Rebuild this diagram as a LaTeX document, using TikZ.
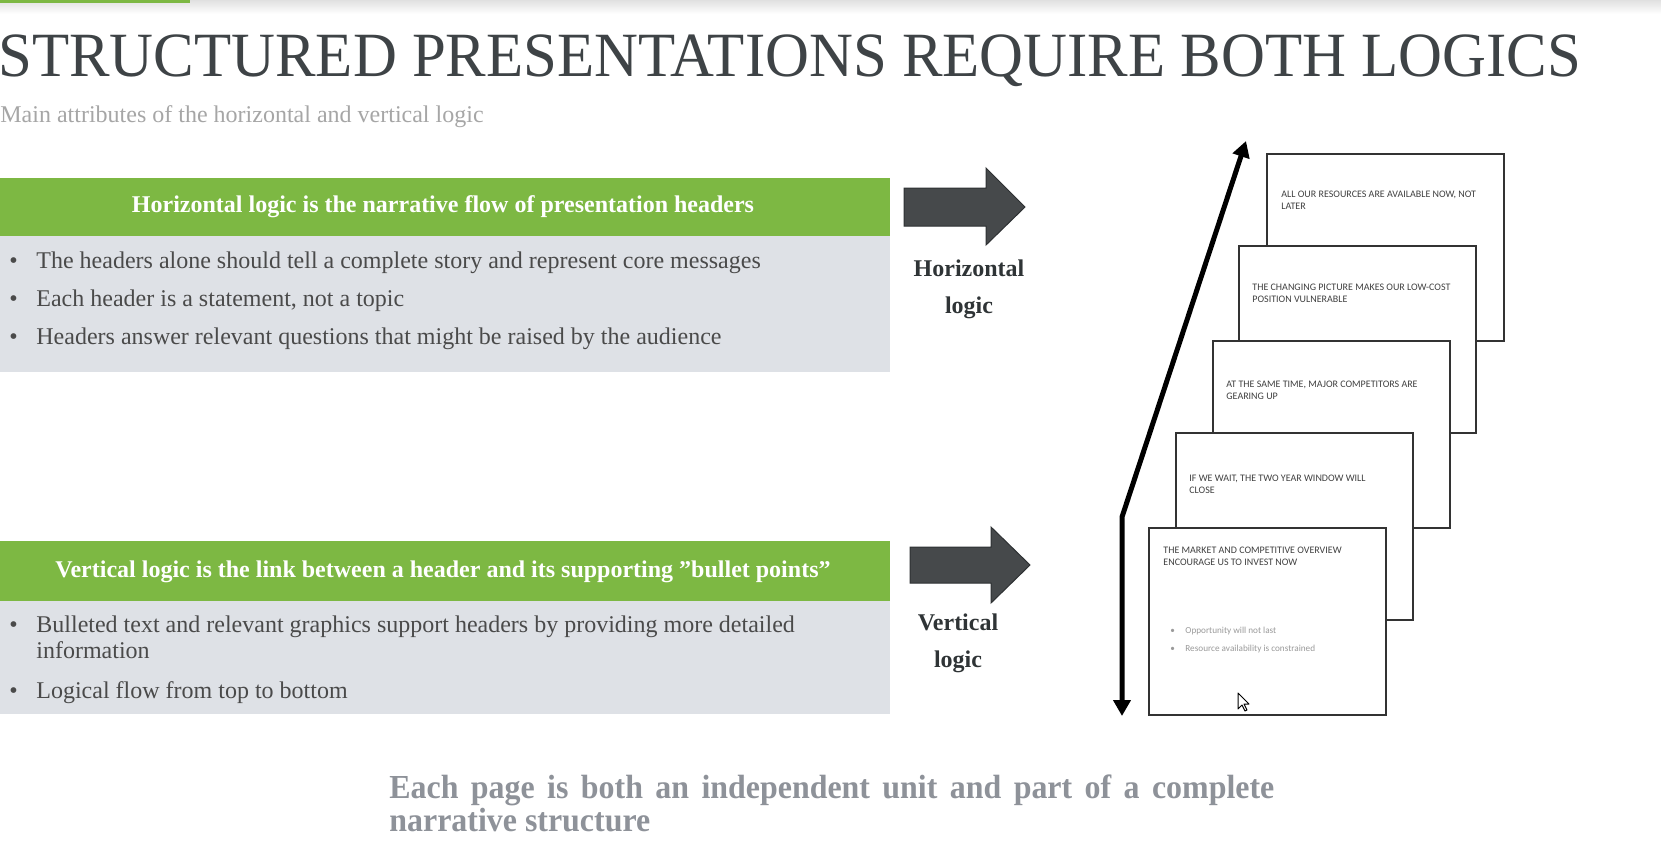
\documentclass[tikz,border=0pt]{standalone}
\usepackage{fontspec}
\setmainfont{Liberation Serif}
\newfontfamily\titlefont{Liberation Serif}[FakeStretch=0.965]
\newfontfamily\notefont{Liberation Serif}[FakeStretch=0.95]
\newfontfamily\slidefont{Carlito}
\usetikzlibrary{arrows.meta}
\definecolor{accent}{HTML}{7DB843}
\definecolor{panel}{HTML}{DEE1E6}
\definecolor{bodytext}{HTML}{4A4A4A}
\definecolor{titlecol}{HTML}{3E4346}
\definecolor{subcol}{HTML}{A6A6A6}
\definecolor{notecol}{HTML}{8E9299}
\definecolor{blockcol}{HTML}{46494B}
\definecolor{blockedge}{HTML}{2E3133}
\definecolor{labelcol}{HTML}{2F3436}
\definecolor{slideedge}{HTML}{333333}
\definecolor{slidetext}{HTML}{404040}
\definecolor{slidebul}{HTML}{9A9A9A}
\begin{document}
\begin{tikzpicture}[x=0.5pt,y=-0.5pt,
  txt/.style={anchor=base west,inner sep=0pt},
  hdrbar/.style={fill=accent,anchor=north west,inner sep=0pt,minimum width=445pt,minimum height=#1},
  panelbox/.style={fill=panel,anchor=north west,inner sep=0pt,minimum width=445pt,minimum height=#1},
  hdrtext/.style={anchor=base,inner sep=0pt,text=white,font=\fontsize{12}{14}\selectfont\bfseries},
  bultext/.style={txt,text=bodytext,align=left,font=\fontsize{12}{13}\selectfont},
  bulmark/.style={txt,text=bodytext,font=\fontsize{12}{13}\selectfont},
  blockarrow/.style={fill=blockcol,draw=blockedge,line width=0.5pt},
  logiclabel/.style={anchor=base,inner sep=0pt,text=labelcol,font=\fontsize{12}{15}\selectfont\bfseries},
  slidebox/.style={draw=slideedge,fill=white,line width=1pt,anchor=north west,inner sep=0pt,minimum width=118.5pt,minimum height=93.5pt},
  slidehead/.style={txt,text=slidetext,align=left,font=\slidefont\fontsize{5}{6}\selectfont},
  slidebullet/.style={txt,text=slidebul,font=\slidefont\fontsize{4.6}{6}\selectfont},
  bigarrow/.style={line width=2.5pt,line join=miter,{Triangle[length=8pt,width=8.5pt]}-{Triangle[length=8pt,width=8.5pt]}}
]
\useasboundingbox (0,0) rectangle (1661,864);
\fill[white] (0,0) rectangle (1661,864);

% top band and accent line
\shade[top color=black!12,bottom color=white] (0,0) rectangle (1661,14);
\fill[accent] (0,0) rectangle (190,3);

% title and subtitle
\node[txt,text=titlecol,font=\titlefont\fontsize{31.5}{36}\selectfont] (title) at (-2,76)
  {STRUCTURED PRESENTATIONS REQUIRE BOTH LOGICS};
\node[txt,text=subcol,font=\fontsize{12}{14}\selectfont] (subtitle) at (0,122)
  {Main attributes of the horizontal and vertical logic};

% horizontal logic panel
\node[hdrbar=29pt] (hbar) at (0,178) {};
\node[panelbox=68pt] (hpanel) at (0,236) {};
\node[hdrtext] (htitle) at (443,212) {Horizontal logic is the narrative flow of presentation headers};
\node[bulmark] (hb1) at (9,268) {\textbullet};
\node[bultext] (ht1) at (36,268) {The headers alone should tell a complete story and represent core messages};
\node[bulmark] (hb2) at (9,306) {\textbullet};
\node[bultext] (ht2) at (36,306) {Each header is a statement, not a topic};
\node[bulmark] (hb3) at (9,344) {\textbullet};
\node[bultext] (ht3) at (36,344) {Headers answer relevant questions that might be raised by the audience};

% vertical logic panel
\node[hdrbar=30pt] (vbar) at (0,541) {};
\node[panelbox=56.5pt] (vpanel) at (0,601) {};
\node[hdrtext] (vtitle) at (443,577) {Vertical logic is the link between a header and its supporting ”bullet points”};
\node[bulmark] (vb1) at (9,632) {\textbullet};
\node[bultext] (vt1) at (36,658) {Bulleted text and relevant graphics support headers by providing more detailed\\information};
\node[bulmark] (vb2) at (9,698) {\textbullet};
\node[bultext] (vt2) at (36,698) {Logical flow from top to bottom};

% block arrows
\draw[blockarrow] (904,188) -- (986,188) -- (986,168) -- (1025,207) -- (986,245) -- (986,226) -- (904,226) -- cycle;
\node[logiclabel] (hlab1) at (969,276) {Horizontal};
\node[logiclabel] (hlab2) at (969,313) {logic};

\draw[blockarrow] (910,547) -- (991,547) -- (991,527) -- (1030,565) -- (991,603) -- (991,583) -- (910,583) -- cycle;
\node[logiclabel] (vlab1) at (958,630) {Vertical};
\node[logiclabel] (vlab2) at (958,667) {logic};

% stacked slides, back to front
\node[slidebox] (s1) at (1266,153) {};
\node[slidehead] (s1t) at (1281,209) {ALL OUR RESOURCES ARE AVAILABLE NOW, NOT\\LATER};
\node[slidebox] (s2) at (1238,245) {};
\node[slidehead] (s2t) at (1252,302) {THE CHANGING PICTURE MAKES OUR LOW-COST\\POSITION VULNERABLE};
\node[slidebox] (s3) at (1212,340) {};
\node[slidehead] (s3t) at (1226,399) {AT THE SAME TIME, MAJOR COMPETITORS ARE\\GEARING UP};
\node[slidebox] (s4) at (1175,432) {};
\node[slidehead] (s4t) at (1189,493) {IF WE WAIT, THE TWO YEAR WINDOW WILL\\CLOSE};
\node[slidebox] (s5) at (1148,527) {};
\node[slidehead] (s5t) at (1163,565) {THE MARKET AND COMPETITIVE OVERVIEW\\ENCOURAGE US TO INVEST NOW};
\node[slidebullet] (s5b1) at (1170,633) {\textbullet};
\node[slidebullet] (s5x1) at (1185,633) {Opportunity will not last};
\node[slidebullet] (s5b2) at (1170,651) {\textbullet};
\node[slidebullet] (s5x2) at (1185,651) {Resource availability is constrained};

% mouse pointer
\draw[fill=white,line width=0.5pt,line join=round] (1238,693) -- (1238,709) -- (1242,705) -- (1245,711) -- (1247,710) -- (1244,704) -- (1249,704) -- cycle;

% flow arrow beside the slide stack
\coordinate (flowbot) at (1122,716);
\coordinate (flowcorner) at (1122,517);
\coordinate (flowtop) at (1246,141);
\draw[bigarrow] (flowbot) -- (flowcorner) -- (flowtop);

% closing statement
\node[anchor=base west,inner sep=0pt,text width=442.5pt,align=justify,text=notecol,
      font=\notefont\fontsize{16.8}{16.5}\selectfont\bfseries] (note) at (389,798)
  {Each page is both an independent unit and part of a complete\linebreak narrative structure};
\end{tikzpicture}
\end{document}
